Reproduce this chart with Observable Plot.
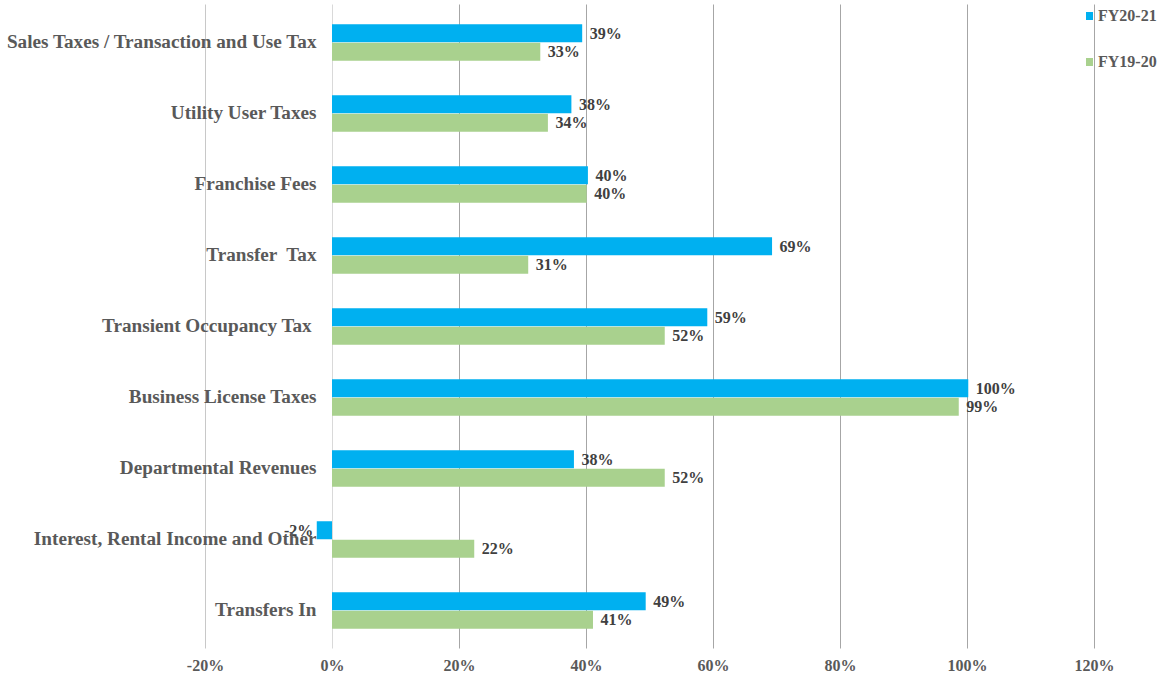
<!DOCTYPE html>
<html>
<head>
<meta charset="utf-8">
<script src="https://cdn.jsdelivr.net/npm/d3@7"></script>
<script src="https://cdn.jsdelivr.net/npm/@observablehq/plot@0.6"></script>
<style>
  html, body { margin: 0; padding: 0; background: #fff; }
  #wrap { position: relative; width: 1166px; height: 677px; font-family: "Liberation Serif", "Times New Roman", serif; }
  #wrap svg text { white-space: pre; }
  .leg { position: absolute; left: 1086px; display: flex; align-items: center; font-weight: bold; font-size: 16px; color: #595959; white-space: nowrap; }
  .sw { width: 7px; height: 8px; margin-right: 5px; }
</style>
</head>
<body>
<div id="wrap">
  <div class="leg" style="top:7px;"><span class="sw" style="background:#00B0F0"></span>FY20-21</div>
  <div class="leg" style="top:53px;"><span class="sw" style="background:#A9D18E"></span>FY19-20</div>
</div>
<script>
const categories = [
  "Sales Taxes / Transaction and Use Tax",
  "Utility User Taxes",
  "Franchise Fees",
  "Transfer  Tax",
  "Transient Occupancy Tax ",
  "Business License Taxes",
  "Departmental Revenues",
  "Interest, Rental Income and Other",
  "Transfers In"
];
const fy2021 = [39.4, 37.7, 40.3, 69.3, 59.1, 100.2, 38.1, -2.4, 49.4];
const fy1920 = [32.8, 34.0, 40.1, 30.9, 52.4, 98.7, 52.4, 22.4, 41.1];
const xTicks = [-20, 0, 20, 40, 60, 80, 100, 120];

const blue = "#00B0F0";
const green = "#A9D18E";
const font = "Liberation Serif, Times New Roman, serif";

const d21 = categories.map((c, i) => ({category: c, value: fy2021[i]}));
const d20 = categories.map((c, i) => ({category: c, value: fy1920[i]}));
const fmt = d => Math.round(d.value) + "%";

const inset = 26.5;
const off = 9.25;

const chart = Plot.plot({
  width: 1166,
  height: 677,
  marginLeft: 205,
  marginRight: 72,
  marginTop: 4.5,
  marginBottom: 28.5,
  style: {fontFamily: font, background: "transparent"},
  x: {domain: [-20, 120]},
  y: {domain: categories, padding: 0, axis: null},
  marks: [
    Plot.ruleX(xTicks, {stroke: d => d === 0 ? "#D9D9D9" : (d === -20 ? "#C8C8C8" : "#A6A6A6"), strokeWidth: 1}),
    Plot.axisX({ticks: xTicks, tickFormat: d => d + "%", tickSize: 0, tickPadding: 11, fontSize: 16, fontWeight: "bold", color: "#595959", label: null}),
    Plot.barX(d21, {x: "value", y: "category", fill: blue, insetTop: inset, insetBottom: inset, dy: -off}),
    Plot.barX(d20, {x: "value", y: "category", fill: green, insetTop: inset, insetBottom: inset, dy: off}),
    Plot.text(d21, {filter: d => d.value >= 0, x: "value", y: "category", text: fmt, dy: -off, dx: 7, textAnchor: "start", fontSize: 16, fontWeight: "bold", fill: "#404040", fontFamily: font}),
    Plot.text(d21, {filter: d => d.value < 0, x: "value", y: "category", text: fmt, dy: -off, dx: -4, textAnchor: "end", fontSize: 16, fontWeight: "bold", fill: "#404040", fontFamily: font}),
    Plot.text(d20, {x: "value", y: "category", text: fmt, dy: off, dx: 7, textAnchor: "start", fontSize: 16, fontWeight: "bold", fill: "#404040", fontFamily: font}),
    Plot.text(categories, {x: () => 0, y: d => d, text: d => d, dx: -16, dy: -1, textAnchor: "end", fontSize: 19.2, fontWeight: "bold", fill: "#595959", fontFamily: font})
  ]
});
chart.style.position = "absolute";
chart.style.left = "0";
chart.style.top = "0";
const wrap = document.getElementById("wrap");
wrap.insertBefore(chart, wrap.firstChild);
</script>
</body>
</html>
